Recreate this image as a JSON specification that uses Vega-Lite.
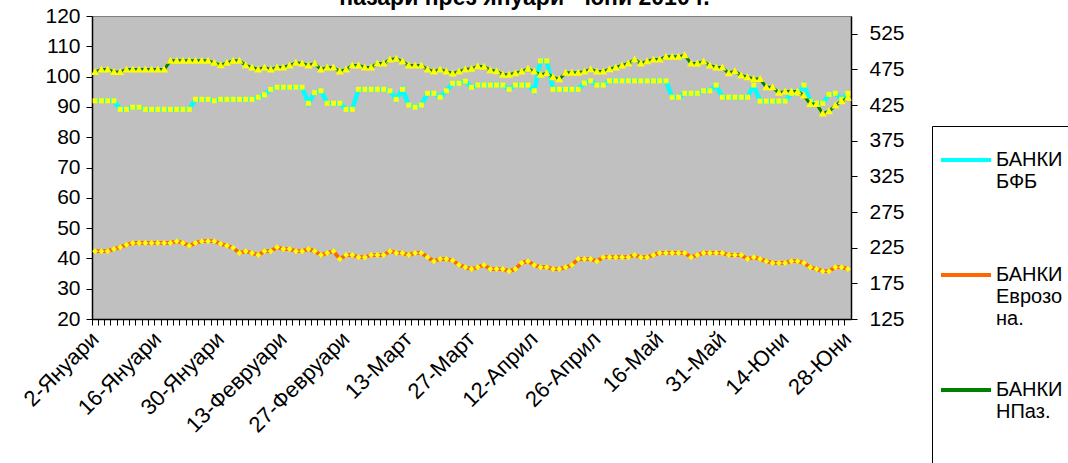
{
"$schema":"https://vega.github.io/schema/vega-lite/v6.json",
"width":759,"height":303,
"autosize":{"type":"none"},
"padding":{"left":92,"top":16,"right":217,"bottom":144},
"background":"white",
"title":{"text":"пазари през януари - юни 2010 г.","frame":"group","anchor":"middle","baseline":"alphabetic","offset":0,"dy":23,"dx":53,"fontSize":23,"fontWeight":"bold","font":"Liberation Sans","color":"#000"},
"config":{"view":{"fill":"#C0C0C0","stroke":"#808080","strokeWidth":1},"font":"Liberation Sans",
 "axis":{"labelFont":"Liberation Sans","labelColor":"#000","domainColor":"#000","tickColor":"#000","grid":false,"title":null,"domainWidth":1.5,"tickWidth":1}},
"data":{"values":[
{"i":0,"s":"БАНКИ БФБ","v":92.0},{"i":1,"s":"БАНКИ БФБ","v":92.0},{"i":2,"s":"БАНКИ БФБ","v":92.0},{"i":3,"s":"БАНКИ БФБ","v":92.0},{"i":4,"s":"БАНКИ БФБ","v":89.2},{"i":5,"s":"БАНКИ БФБ","v":89.2},{"i":6,"s":"БАНКИ БФБ","v":89.9},{"i":7,"s":"БАНКИ БФБ","v":89.9},{"i":8,"s":"БАНКИ БФБ","v":89.2},{"i":9,"s":"БАНКИ БФБ","v":89.2},
{"i":10,"s":"БАНКИ БФБ","v":89.2},{"i":11,"s":"БАНКИ БФБ","v":89.2},{"i":12,"s":"БАНКИ БФБ","v":89.2},{"i":13,"s":"БАНКИ БФБ","v":89.2},{"i":14,"s":"БАНКИ БФБ","v":89.2},{"i":15,"s":"БАНКИ БФБ","v":89.2},{"i":16,"s":"БАНКИ БФБ","v":92.5},{"i":17,"s":"БАНКИ БФБ","v":92.5},{"i":18,"s":"БАНКИ БФБ","v":92.5},{"i":19,"s":"БАНКИ БФБ","v":92.0},
{"i":20,"s":"БАНКИ БФБ","v":92.5},{"i":21,"s":"БАНКИ БФБ","v":92.5},{"i":22,"s":"БАНКИ БФБ","v":92.5},{"i":23,"s":"БАНКИ БФБ","v":92.5},{"i":24,"s":"БАНКИ БФБ","v":92.5},{"i":25,"s":"БАНКИ БФБ","v":92.5},{"i":26,"s":"БАНКИ БФБ","v":93.2},{"i":27,"s":"БАНКИ БФБ","v":94.0},{"i":28,"s":"БАНКИ БФБ","v":95.8},{"i":29,"s":"БАНКИ БФБ","v":96.5},
{"i":30,"s":"БАНКИ БФБ","v":96.5},{"i":31,"s":"БАНКИ БФБ","v":96.5},{"i":32,"s":"БАНКИ БФБ","v":96.5},{"i":33,"s":"БАНКИ БФБ","v":96.5},{"i":34,"s":"БАНКИ БФБ","v":91.2},{"i":35,"s":"БАНКИ БФБ","v":94.7},{"i":36,"s":"БАНКИ БФБ","v":95.3},{"i":37,"s":"БАНКИ БФБ","v":91.2},{"i":38,"s":"БАНКИ БФБ","v":91.2},{"i":39,"s":"БАНКИ БФБ","v":91.2},
{"i":40,"s":"БАНКИ БФБ","v":89.2},{"i":41,"s":"БАНКИ БФБ","v":89.2},{"i":42,"s":"БАНКИ БФБ","v":95.8},{"i":43,"s":"БАНКИ БФБ","v":95.8},{"i":44,"s":"БАНКИ БФБ","v":95.8},{"i":45,"s":"БАНКИ БФБ","v":95.8},{"i":46,"s":"БАНКИ БФБ","v":95.8},{"i":47,"s":"БАНКИ БФБ","v":95.3},{"i":48,"s":"БАНКИ БФБ","v":92.5},{"i":49,"s":"БАНКИ БФБ","v":95.8},
{"i":50,"s":"БАНКИ БФБ","v":90.6},{"i":51,"s":"БАНКИ БФБ","v":89.9},{"i":52,"s":"БАНКИ БФБ","v":90.6},{"i":53,"s":"БАНКИ БФБ","v":94.5},{"i":54,"s":"БАНКИ БФБ","v":94.5},{"i":55,"s":"БАНКИ БФБ","v":93.2},{"i":56,"s":"БАНКИ БФБ","v":95.3},{"i":57,"s":"БАНКИ БФБ","v":97.8},{"i":58,"s":"БАНКИ БФБ","v":97.8},{"i":59,"s":"БАНКИ БФБ","v":98.5},
{"i":60,"s":"БАНКИ БФБ","v":96.5},{"i":61,"s":"БАНКИ БФБ","v":97.2},{"i":62,"s":"БАНКИ БФБ","v":97.2},{"i":63,"s":"БАНКИ БФБ","v":97.2},{"i":64,"s":"БАНКИ БФБ","v":97.2},{"i":65,"s":"БАНКИ БФБ","v":97.2},{"i":66,"s":"БАНКИ БФБ","v":95.8},{"i":67,"s":"БАНКИ БФБ","v":97.2},{"i":68,"s":"БАНКИ БФБ","v":97.2},{"i":69,"s":"БАНКИ БФБ","v":97.2},
{"i":70,"s":"БАНКИ БФБ","v":95.3},{"i":71,"s":"БАНКИ БФБ","v":105.2},{"i":72,"s":"БАНКИ БФБ","v":105.2},{"i":73,"s":"БАНКИ БФБ","v":95.8},{"i":74,"s":"БАНКИ БФБ","v":95.8},{"i":75,"s":"БАНКИ БФБ","v":95.8},{"i":76,"s":"БАНКИ БФБ","v":95.8},{"i":77,"s":"БАНКИ БФБ","v":95.8},{"i":78,"s":"БАНКИ БФБ","v":97.9},{"i":79,"s":"БАНКИ БФБ","v":98.6},
{"i":80,"s":"БАНКИ БФБ","v":97.2},{"i":81,"s":"БАНКИ БФБ","v":97.2},{"i":82,"s":"БАНКИ БФБ","v":98.6},{"i":83,"s":"БАНКИ БФБ","v":98.6},{"i":84,"s":"БАНКИ БФБ","v":98.6},{"i":85,"s":"БАНКИ БФБ","v":98.6},{"i":86,"s":"БАНКИ БФБ","v":98.6},{"i":87,"s":"БАНКИ БФБ","v":98.6},{"i":88,"s":"БАНКИ БФБ","v":98.6},{"i":89,"s":"БАНКИ БФБ","v":98.6},
{"i":90,"s":"БАНКИ БФБ","v":98.6},{"i":91,"s":"БАНКИ БФБ","v":98.6},{"i":92,"s":"БАНКИ БФБ","v":93.2},{"i":93,"s":"БАНКИ БФБ","v":93.2},{"i":94,"s":"БАНКИ БФБ","v":94.5},{"i":95,"s":"БАНКИ БФБ","v":94.5},{"i":96,"s":"БАНКИ БФБ","v":94.5},{"i":97,"s":"БАНКИ БФБ","v":95.3},{"i":98,"s":"БАНКИ БФБ","v":95.3},{"i":99,"s":"БАНКИ БФБ","v":97.2},
{"i":100,"s":"БАНКИ БФБ","v":93.2},{"i":101,"s":"БАНКИ БФБ","v":93.2},{"i":102,"s":"БАНКИ БФБ","v":93.2},{"i":103,"s":"БАНКИ БФБ","v":93.2},{"i":104,"s":"БАНКИ БФБ","v":93.2},{"i":105,"s":"БАНКИ БФБ","v":97.2},{"i":106,"s":"БАНКИ БФБ","v":91.9},{"i":107,"s":"БАНКИ БФБ","v":91.9},{"i":108,"s":"БАНКИ БФБ","v":91.9},{"i":109,"s":"БАНКИ БФБ","v":91.9},
{"i":110,"s":"БАНКИ БФБ","v":91.9},{"i":111,"s":"БАНКИ БФБ","v":94.5},{"i":112,"s":"БАНКИ БФБ","v":94.5},{"i":113,"s":"БАНКИ БФБ","v":97.2},{"i":114,"s":"БАНКИ БФБ","v":91.8},{"i":115,"s":"БАНКИ БФБ","v":91.2},{"i":116,"s":"БАНКИ БФБ","v":91.2},{"i":117,"s":"БАНКИ БФБ","v":94.1},{"i":118,"s":"БАНКИ БФБ","v":94.5},{"i":119,"s":"БАНКИ БФБ","v":92.5},
{"i":120,"s":"БАНКИ БФБ","v":94.5},
{"i":0,"s":"БАНКИ Еврозона.","v":42.4},{"i":1,"s":"БАНКИ Еврозона.","v":42.4},{"i":2,"s":"БАНКИ Еврозона.","v":42.4},{"i":3,"s":"БАНКИ Еврозона.","v":43.1},{"i":4,"s":"БАНКИ Еврозона.","v":43.7},{"i":5,"s":"БАНКИ Еврозона.","v":44.5},{"i":6,"s":"БАНКИ Еврозона.","v":45.1},{"i":7,"s":"БАНКИ Еврозона.","v":45.1},{"i":8,"s":"БАНКИ Еврозона.","v":45.1},{"i":9,"s":"БАНКИ Еврозона.","v":45.1},
{"i":10,"s":"БАНКИ Еврозона.","v":45.1},{"i":11,"s":"БАНКИ Еврозона.","v":45.1},{"i":12,"s":"БАНКИ Еврозона.","v":45.1},{"i":13,"s":"БАНКИ Еврозона.","v":45.7},{"i":14,"s":"БАНКИ Еврозона.","v":45.1},{"i":15,"s":"БАНКИ Еврозона.","v":44.2},{"i":16,"s":"БАНКИ Еврозона.","v":45.1},{"i":17,"s":"БАНКИ Еврозона.","v":45.7},{"i":18,"s":"БАНКИ Еврозона.","v":45.7},{"i":19,"s":"БАНКИ Еврозона.","v":45.7},
{"i":20,"s":"БАНКИ Еврозона.","v":44.8},{"i":21,"s":"БАНКИ Еврозона.","v":44.2},{"i":22,"s":"БАНКИ Еврозона.","v":43.5},{"i":23,"s":"БАНКИ Еврозона.","v":41.8},{"i":24,"s":"БАНКИ Еврозона.","v":42.4},{"i":25,"s":"БАНКИ Еврозона.","v":41.8},{"i":26,"s":"БАНКИ Еврозона.","v":41.1},{"i":27,"s":"БАНКИ Еврозона.","v":42.4},{"i":28,"s":"БАНКИ Еврозона.","v":42.4},{"i":29,"s":"БАНКИ Еврозона.","v":43.7},
{"i":30,"s":"БАНКИ Еврозона.","v":43.1},{"i":31,"s":"БАНКИ Еврозона.","v":43.1},{"i":32,"s":"БАНКИ Еврозона.","v":42.4},{"i":33,"s":"БАНКИ Еврозона.","v":42.4},{"i":34,"s":"БАНКИ Еврозона.","v":43.1},{"i":35,"s":"БАНКИ Еврозона.","v":42.4},{"i":36,"s":"БАНКИ Еврозона.","v":41.1},{"i":37,"s":"БАНКИ Еврозона.","v":41.8},{"i":38,"s":"БАНКИ Еврозона.","v":42.4},{"i":39,"s":"БАНКИ Еврозона.","v":39.8},
{"i":40,"s":"БАНКИ Еврозона.","v":41.1},{"i":41,"s":"БАНКИ Еврозона.","v":41.1},{"i":42,"s":"БАНКИ Еврозона.","v":40.4},{"i":43,"s":"БАНКИ Еврозона.","v":40.4},{"i":44,"s":"БАНКИ Еврозона.","v":41.1},{"i":45,"s":"БАНКИ Еврозона.","v":41.1},{"i":46,"s":"БАНКИ Еврозона.","v":41.1},{"i":47,"s":"БАНКИ Еврозона.","v":42.4},{"i":48,"s":"БАНКИ Еврозона.","v":41.8},{"i":49,"s":"БАНКИ Еврозона.","v":41.8},
{"i":50,"s":"БАНКИ Еврозона.","v":41.1},{"i":51,"s":"БАНКИ Еврозона.","v":41.8},{"i":52,"s":"БАНКИ Еврозона.","v":41.8},{"i":53,"s":"БАНКИ Еврозона.","v":40.4},{"i":54,"s":"БАНКИ Еврозона.","v":39.1},{"i":55,"s":"БАНКИ Еврозона.","v":39.8},{"i":56,"s":"БАНКИ Еврозона.","v":39.8},{"i":57,"s":"БАНКИ Еврозона.","v":39.3},{"i":58,"s":"БАНКИ Еврозона.","v":37.9},{"i":59,"s":"БАНКИ Еврозона.","v":37.1},
{"i":60,"s":"БАНКИ Еврозона.","v":36.5},{"i":61,"s":"БАНКИ Еврозона.","v":37.1},{"i":62,"s":"БАНКИ Еврозона.","v":37.8},{"i":63,"s":"БАНКИ Еврозона.","v":36.5},{"i":64,"s":"БАНКИ Еврозона.","v":36.5},{"i":65,"s":"БАНКИ Еврозона.","v":36.5},{"i":66,"s":"БАНКИ Еврозона.","v":35.8},{"i":67,"s":"БАНКИ Еврозона.","v":36.5},{"i":68,"s":"БАНКИ Еврозона.","v":38.5},{"i":69,"s":"БАНКИ Еврозона.","v":39.1},
{"i":70,"s":"БАНКИ Еврозона.","v":37.8},{"i":71,"s":"БАНКИ Еврозона.","v":37.1},{"i":72,"s":"БАНКИ Еврозона.","v":37.1},{"i":73,"s":"БАНКИ Еврозона.","v":36.5},{"i":74,"s":"БАНКИ Еврозона.","v":36.5},{"i":75,"s":"БАНКИ Еврозона.","v":37.1},{"i":76,"s":"БАНКИ Еврозона.","v":37.8},{"i":77,"s":"БАНКИ Еврозона.","v":39.8},{"i":78,"s":"БАНКИ Еврозона.","v":39.8},{"i":79,"s":"БАНКИ Еврозона.","v":39.8},
{"i":80,"s":"БАНКИ Еврозона.","v":39.1},{"i":81,"s":"БАНКИ Еврозона.","v":40.4},{"i":82,"s":"БАНКИ Еврозона.","v":40.4},{"i":83,"s":"БАНКИ Еврозона.","v":40.4},{"i":84,"s":"БАНКИ Еврозона.","v":40.4},{"i":85,"s":"БАНКИ Еврозона.","v":40.4},{"i":86,"s":"БАНКИ Еврозона.","v":41.1},{"i":87,"s":"БАНКИ Еврозона.","v":40.4},{"i":88,"s":"БАНКИ Еврозона.","v":40.4},{"i":89,"s":"БАНКИ Еврозона.","v":41.1},
{"i":90,"s":"БАНКИ Еврозона.","v":41.8},{"i":91,"s":"БАНКИ Еврозона.","v":41.8},{"i":92,"s":"БАНКИ Еврозона.","v":41.8},{"i":93,"s":"БАНКИ Еврозона.","v":41.8},{"i":94,"s":"БАНКИ Еврозона.","v":41.8},{"i":95,"s":"БАНКИ Еврозона.","v":40.4},{"i":96,"s":"БАНКИ Еврозона.","v":41.1},{"i":97,"s":"БАНКИ Еврозона.","v":41.8},{"i":98,"s":"БАНКИ Еврозона.","v":41.8},{"i":99,"s":"БАНКИ Еврозона.","v":41.8},
{"i":100,"s":"БАНКИ Еврозона.","v":41.8},{"i":101,"s":"БАНКИ Еврозона.","v":41.1},{"i":102,"s":"БАНКИ Еврозона.","v":41.1},{"i":103,"s":"БАНКИ Еврозона.","v":41.1},{"i":104,"s":"БАНКИ Еврозона.","v":39.8},{"i":105,"s":"БАНКИ Еврозона.","v":40.4},{"i":106,"s":"БАНКИ Еврозона.","v":39.8},{"i":107,"s":"БАНКИ Еврозона.","v":39.1},{"i":108,"s":"БАНКИ Еврозона.","v":38.5},{"i":109,"s":"БАНКИ Еврозона.","v":38.5},
{"i":110,"s":"БАНКИ Еврозона.","v":38.5},{"i":111,"s":"БАНКИ Еврозона.","v":39.1},{"i":112,"s":"БАНКИ Еврозона.","v":39.1},{"i":113,"s":"БАНКИ Еврозона.","v":38.5},{"i":114,"s":"БАНКИ Еврозона.","v":37.1},{"i":115,"s":"БАНКИ Еврозона.","v":36.5},{"i":116,"s":"БАНКИ Еврозона.","v":35.8},{"i":117,"s":"БАНКИ Еврозона.","v":35.8},{"i":118,"s":"БАНКИ Еврозона.","v":37.1},{"i":119,"s":"БАНКИ Еврозона.","v":37.1},
{"i":120,"s":"БАНКИ Еврозона.","v":36.5},
{"i":0,"s":"БАНКИ НПаз.","v":471.6},{"i":1,"s":"БАНКИ НПаз.","v":474.9},{"i":2,"s":"БАНКИ НПаз.","v":474.9},{"i":3,"s":"БАНКИ НПаз.","v":471.6},{"i":4,"s":"БАНКИ НПаз.","v":471.6},{"i":5,"s":"БАНКИ НПаз.","v":474.9},{"i":6,"s":"БАНКИ НПаз.","v":474.9},{"i":7,"s":"БАНКИ НПаз.","v":474.9},{"i":8,"s":"БАНКИ НПаз.","v":474.9},{"i":9,"s":"БАНКИ НПаз.","v":474.9},
{"i":10,"s":"БАНКИ НПаз.","v":474.9},{"i":11,"s":"БАНКИ НПаз.","v":474.9},{"i":12,"s":"БАНКИ НПаз.","v":487.1},{"i":13,"s":"БАНКИ НПаз.","v":487.1},{"i":14,"s":"БАНКИ НПаз.","v":487.1},{"i":15,"s":"БАНКИ НПаз.","v":487.1},{"i":16,"s":"БАНКИ НПаз.","v":487.1},{"i":17,"s":"БАНКИ НПаз.","v":487.1},{"i":18,"s":"БАНКИ НПаз.","v":487.1},{"i":19,"s":"БАНКИ НПаз.","v":484.3},
{"i":20,"s":"БАНКИ НПаз.","v":481.0},{"i":21,"s":"БАНКИ НПаз.","v":484.3},{"i":22,"s":"БАНКИ НПаз.","v":487.1},{"i":23,"s":"БАНКИ НПаз.","v":487.1},{"i":24,"s":"БАНКИ НПаз.","v":481.0},{"i":25,"s":"БАНКИ НПаз.","v":477.7},{"i":26,"s":"БАНКИ НПаз.","v":474.9},{"i":27,"s":"БАНКИ НПаз.","v":477.7},{"i":28,"s":"БАНКИ НПаз.","v":474.9},{"i":29,"s":"БАНКИ НПаз.","v":477.7},
{"i":30,"s":"БАНКИ НПаз.","v":477.7},{"i":31,"s":"БАНКИ НПаз.","v":480.5},{"i":32,"s":"БАНКИ НПаз.","v":484.3},{"i":33,"s":"БАНКИ НПаз.","v":483.3},{"i":34,"s":"БАНКИ НПаз.","v":480.5},{"i":35,"s":"БАНКИ НПаз.","v":483.3},{"i":36,"s":"БАНКИ НПаз.","v":474.9},{"i":37,"s":"БАНКИ НПаз.","v":477.7},{"i":38,"s":"БАНКИ НПаз.","v":477.7},{"i":39,"s":"БАНКИ НПаз.","v":472.0},
{"i":40,"s":"БАНКИ НПаз.","v":474.9},{"i":41,"s":"БАНКИ НПаз.","v":480.5},{"i":42,"s":"БАНКИ НПаз.","v":480.5},{"i":43,"s":"БАНКИ НПаз.","v":477.7},{"i":44,"s":"БАНКИ НПаз.","v":477.7},{"i":45,"s":"БАНКИ НПаз.","v":483.3},{"i":46,"s":"БАНКИ НПаз.","v":483.3},{"i":47,"s":"БАНКИ НПаз.","v":489.0},{"i":48,"s":"БАНКИ НПаз.","v":490.0},{"i":49,"s":"БАНКИ НПаз.","v":486.1},
{"i":50,"s":"БАНКИ НПаз.","v":480.5},{"i":51,"s":"БАНКИ НПаз.","v":480.5},{"i":52,"s":"БАНКИ НПаз.","v":480.5},{"i":53,"s":"БАНКИ НПаз.","v":474.9},{"i":54,"s":"БАНКИ НПаз.","v":472.0},{"i":55,"s":"БАНКИ НПаз.","v":474.9},{"i":56,"s":"БАНКИ НПаз.","v":472.0},{"i":57,"s":"БАНКИ НПаз.","v":469.3},{"i":58,"s":"БАНКИ НПаз.","v":472.0},{"i":59,"s":"БАНКИ НПаз.","v":474.9},
{"i":60,"s":"БАНКИ НПаз.","v":475.9},{"i":61,"s":"БАНКИ НПаз.","v":479.5},{"i":62,"s":"БАНКИ НПаз.","v":478.7},{"i":63,"s":"БАНКИ НПаз.","v":474.0},{"i":64,"s":"БАНКИ НПаз.","v":472.5},{"i":65,"s":"БАНКИ НПаз.","v":467.5},{"i":66,"s":"БАНКИ НПаз.","v":467.5},{"i":67,"s":"БАНКИ НПаз.","v":469.7},{"i":68,"s":"БАНКИ НПаз.","v":472.0},{"i":69,"s":"БАНКИ НПаз.","v":475.9},
{"i":70,"s":"БАНКИ НПаз.","v":472.0},{"i":71,"s":"БАНКИ НПаз.","v":467.5},{"i":72,"s":"БАНКИ НПаз.","v":469.7},{"i":73,"s":"БАНКИ НПаз.","v":464.0},{"i":74,"s":"БАНКИ НПаз.","v":461.3},{"i":75,"s":"БАНКИ НПаз.","v":470.3},{"i":76,"s":"БАНКИ НПаз.","v":470.3},{"i":77,"s":"БАНКИ НПаз.","v":470.3},{"i":78,"s":"БАНКИ НПаз.","v":472.0},{"i":79,"s":"БАНКИ НПаз.","v":475.3},
{"i":80,"s":"БАНКИ НПаз.","v":472.0},{"i":81,"s":"БАНКИ НПаз.","v":472.0},{"i":82,"s":"БАНКИ НПаз.","v":475.3},{"i":83,"s":"БАНКИ НПаз.","v":477.7},{"i":84,"s":"БАНКИ НПаз.","v":480.5},{"i":85,"s":"БАНКИ НПаз.","v":483.3},{"i":86,"s":"БАНКИ НПаз.","v":489.0},{"i":87,"s":"БАНКИ НПаз.","v":483.3},{"i":88,"s":"БАНКИ НПаз.","v":486.6},{"i":89,"s":"БАНКИ НПаз.","v":489.0},
{"i":90,"s":"БАНКИ НПаз.","v":489.0},{"i":91,"s":"БАНКИ НПаз.","v":492.7},{"i":92,"s":"БАНКИ НПаз.","v":492.7},{"i":93,"s":"БАНКИ НПаз.","v":492.7},{"i":94,"s":"БАНКИ НПаз.","v":495.0},{"i":95,"s":"БАНКИ НПаз.","v":483.3},{"i":96,"s":"БАНКИ НПаз.","v":483.3},{"i":97,"s":"БАНКИ НПаз.","v":486.1},{"i":98,"s":"БАНКИ НПаз.","v":480.5},{"i":99,"s":"БАНКИ НПаз.","v":477.7},
{"i":100,"s":"БАНКИ НПаз.","v":477.7},{"i":101,"s":"БАНКИ НПаз.","v":469.7},{"i":102,"s":"БАНКИ НПаз.","v":472.5},{"i":103,"s":"БАНКИ НПаз.","v":466.5},{"i":104,"s":"БАНКИ НПаз.","v":464.1},{"i":105,"s":"БАНКИ НПаз.","v":461.8},{"i":106,"s":"БАНКИ НПаз.","v":461.8},{"i":107,"s":"БАНКИ НПаз.","v":450.0},{"i":108,"s":"БАНКИ НПаз.","v":450.0},{"i":109,"s":"БАНКИ НПаз.","v":442.2},
{"i":110,"s":"БАНКИ НПаз.","v":444.0},{"i":111,"s":"БАНКИ НПаз.","v":444.0},{"i":112,"s":"БАНКИ НПаз.","v":444.0},{"i":113,"s":"БАНКИ НПаз.","v":438.4},{"i":114,"s":"БАНКИ НПаз.","v":426.7},{"i":115,"s":"БАНКИ НПаз.","v":426.7},{"i":116,"s":"БАНКИ НПаз.","v":413.1},{"i":117,"s":"БАНКИ НПаз.","v":416.4},{"i":118,"s":"БАНКИ НПаз.","v":424.4},{"i":119,"s":"БАНКИ НПаз.","v":430.4},
{"i":120,"s":"БАНКИ НПаз.","v":435.2}
]},
"encoding":{"x":{"field":"i","type":"ordinal","bandPosition":0.5,
 "scale":{"type":"band","paddingInner":0,"paddingOuter":0},
 "axis":{"orient":"bottom","bandPosition":0,"tickSize":6,"labelAngle":-45,"labelAlign":"right","labelBaseline":"middle","labelPadding":10,"labelFontSize":22,"labelOverlap":false,"labelBound":false,"labelFlush":false,
  "labelExpr":"datum.value % 10 == 0 ? ['2-Януари','16-Януари','30-Януари','13-Февруари','27-Февруари','13-Март','27-Март','12-Април','26-Април','16-Май','31-Май','14-Юни','28-Юни'][datum.value/10] : ''"}}},
"layer":[
 {"transform":[{"filter":"datum.s != 'БАНКИ НПаз.'"}],
  "encoding":{"y":{"field":"v","type":"quantitative","scale":{"domain":[20,120],"nice":false,"zero":false},
   "axis":{"orient":"left","values":[20,30,40,50,60,70,80,90,100,110,120],"tickSize":6,"labelPadding":6,"labelFontSize":21}}},
  "layer":[
   {"mark":{"type":"line"},
    "encoding":{"color":{"field":"s","type":"nominal","scale":{"range":["#00FFFF","#FF6600","#008000"]},
      "legend":{"orient":"none","legendX":840,"legendY":110,"title":"\u00a0\u00a0\u00a0\u00a0\u00a0\u00a0\u00a0\u00a0\u00a0\u00a0\u00a0\u00a0\u00a0\u00a0\u00a0\u00a0\u00a0\u00a0\u00a0\u00a0\u00a0\u00a0\u00a0\u00a0\u00a0\u00a0\u00a0\u00a0\u00a0\u00a0","titleOrient":"bottom","titlePadding":70,"titleFontSize":20,"titleLimit":400,"padding":7,"strokeColor":"#000","symbolType":"stroke","symbolSize":2500,"symbolStrokeWidth":4,"labelFont":"Liberation Sans","labelFontSize":20,"labelLineHeight":27,"labelLimit":300,"rowPadding":34,"gridAlign":"all","labelOffset":3,
       "labelExpr":"datum.label == 'БАНКИ Еврозона.' ? ['БАНКИ','Еврозо','на.'] : split(datum.label, ' ')"}},
     "strokeWidth":{"field":"s","type":"nominal","scale":{"domain":["БАНКИ БФБ","БАНКИ Еврозона.","БАНКИ НПаз."],"range":[4.5,3,3.5]},"legend":null}}},
   {"mark":{"type":"point","filled":true,"fill":"#FFFF00","color":"#FFFF00","size":2500,"opacity":1,"strokeWidth":0},
    "encoding":{"shape":{"field":"s","type":"nominal","scale":{"domain":["БАНКИ БФБ","БАНКИ Еврозона.","БАНКИ НПаз."],"range":["M-0.1,-0.1H0.1V0.1H-0.1Z","M0,-0.12L0.12,0L0,0.12L-0.12,0Z","M0,-0.16L0.16,0.12H-0.16Z"]},
      "legend":{"orient":"none","legendX":840,"legendY":110,"title":null,"padding":7,"symbolSize":2500,"symbolFillColor":"#FFFF00","symbolStrokeWidth":0,"labelFont":"Liberation Sans","labelFontSize":20,"labelLineHeight":27,"labelLimit":300,"rowPadding":34,"gridAlign":"all","labelOffset":3,"labelOpacity":0,
       "labelExpr":"datum.label == 'БАНКИ Еврозона.' ? ['БАНКИ','Еврозо','на.'] : split(datum.label, ' ')"}}}}
  ]},
 {"transform":[{"filter":"datum.s == 'БАНКИ НПаз.'"}],
  "encoding":{"y":{"field":"v","type":"quantitative","scale":{"domain":[125,550],"nice":false,"zero":false},
   "axis":{"orient":"right","values":[125,175,225,275,325,375,425,475,525],"tickSize":6,"labelPadding":12,"labelFontSize":21}}},
  "layer":[
   {"mark":{"type":"line"},
    "encoding":{"color":{"field":"s","type":"nominal","scale":{"range":["#00FFFF","#FF6600","#008000"]},
      "legend":{"orient":"none","legendX":840,"legendY":110,"title":"\u00a0\u00a0\u00a0\u00a0\u00a0\u00a0\u00a0\u00a0\u00a0\u00a0\u00a0\u00a0\u00a0\u00a0\u00a0\u00a0\u00a0\u00a0\u00a0\u00a0\u00a0\u00a0\u00a0\u00a0\u00a0\u00a0\u00a0\u00a0\u00a0\u00a0","titleOrient":"bottom","titlePadding":70,"titleFontSize":20,"titleLimit":400,"padding":7,"strokeColor":"#000","symbolType":"stroke","symbolSize":2500,"symbolStrokeWidth":4,"labelFont":"Liberation Sans","labelFontSize":20,"labelLineHeight":27,"labelLimit":300,"rowPadding":34,"gridAlign":"all","labelOffset":3,
       "labelExpr":"datum.label == 'БАНКИ Еврозона.' ? ['БАНКИ','Еврозо','на.'] : split(datum.label, ' ')"}},
     "strokeWidth":{"field":"s","type":"nominal","scale":{"domain":["БАНКИ БФБ","БАНКИ Еврозона.","БАНКИ НПаз."],"range":[4.5,3,3.5]},"legend":null}}},
   {"mark":{"type":"point","filled":true,"fill":"#FFFF00","color":"#FFFF00","size":2500,"opacity":1,"strokeWidth":0},
    "encoding":{"shape":{"field":"s","type":"nominal","scale":{"domain":["БАНКИ БФБ","БАНКИ Еврозона.","БАНКИ НПаз."],"range":["M-0.1,-0.1H0.1V0.1H-0.1Z","M0,-0.12L0.12,0L0,0.12L-0.12,0Z","M0,-0.16L0.16,0.12H-0.16Z"]},
      "legend":{"orient":"none","legendX":840,"legendY":110,"title":null,"padding":7,"symbolSize":2500,"symbolFillColor":"#FFFF00","symbolStrokeWidth":0,"labelFont":"Liberation Sans","labelFontSize":20,"labelLineHeight":27,"labelLimit":300,"rowPadding":34,"gridAlign":"all","labelOffset":3,"labelOpacity":0,
       "labelExpr":"datum.label == 'БАНКИ Еврозона.' ? ['БАНКИ','Еврозо','на.'] : split(datum.label, ' ')"}}}}
  ]}
],
"resolve":{"scale":{"y":"independent"}}
}
